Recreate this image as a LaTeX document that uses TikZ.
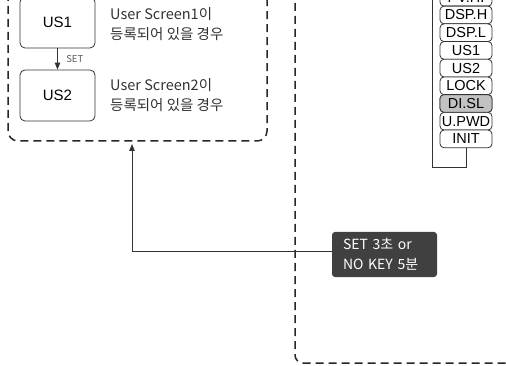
\documentclass[tikz,border=0pt]{standalone}
\usepackage{fontspec}
\setmainfont{Liberation Sans}
\newfontfamily\kr{Noto Sans CJK KR}
\usetikzlibrary{arrows.meta}
\definecolor{inkgray}{HTML}{333333}
\definecolor{labelgray}{HTML}{404040}
\definecolor{selgray}{HTML}{C2C2C2}
\begin{document}
\begin{tikzpicture}[x=1pt,y=-1pt,
  ink/.style={draw=inkgray, line width=0.9pt},
  tip/.style={-{Triangle[length=7pt,width=5.5pt]}},
  usbox/.style={draw=inkgray, line width=0.8pt, rounded corners=5pt,
    minimum width=75pt, minimum height=51pt, inner sep=0pt,
    font=\fontsize{15}{17}\selectfont},
  menuitem/.style={draw=inkgray, line width=0.8pt, rounded corners=4pt, fill=white,
    minimum width=52pt, minimum height=17.7pt, inner sep=0pt,
    font=\fontsize{14.5}{16}\selectfont},
  zone/.style={draw=black!85, line width=1.5pt, dash pattern=on 8pt off 5pt},
  note/.style={font=\kr\fontsize{14.5}{20}\selectfont, text=inkgray,
    align=left, anchor=west, inner sep=0pt},
  darklabel/.style={fill=labelgray, rounded corners=3pt, text=white,
    text width=83pt, inner xsep=11pt, minimum height=45pt, inner ysep=0pt,
    font=\kr\fontsize{14}{20.5}\selectfont, align=left}]
\useasboundingbox (0,0) rectangle (506,366);

% dashed group around the user screens
\draw[zone, rounded corners=10pt] (8,-30) rectangle (267,141);
% dashed group around the parameter list
\draw[zone, rounded corners=8pt] (295,-10) -- (295,363) -- (520,363);

% user screens
\node[usbox] (us1) at (57.5,22.5) {US1};
\node[usbox] (us2) at (57.5,95.5) {US2};
\draw[ink, tip] (us1) -- (us2)
  node[midway, right=5pt, font=\kr\fontsize{9.5}{10}\selectfont, text=black!65] {SET};
\node[note] (n1) at (110,24.5) {User Screen1이\\등록되어 있을 경우};
\node[note] (n2) at (110,95) {User Screen2이\\등록되어 있을 경우};

% parameter list (first item runs off the top edge)
\foreach [count=\i from 0] \t in {PV.HI,DSP.H,DSP.L,US1,US2,LOCK,DI.SL,U.PWD,INIT}
  \node[menuitem] (m\i) at (466,-2.7+17.7*\i) {\t};
\node[menuitem, fill=selgray] at (m6) {DI.SL};
\coordinate (looptop) at (432,-10);
\draw[ink] (m8.south) -- ++(0,19) -| (looptop);

% return condition
\node[darklabel] (lab) at (384.5,254.5) {SET 3초 or\\NO KEY 5분};
\coordinate (zoneb) at (132,144);
\draw[ink, tip] ([yshift=3.5pt]lab.west) -| (zoneb);
\end{tikzpicture}
\end{document}
